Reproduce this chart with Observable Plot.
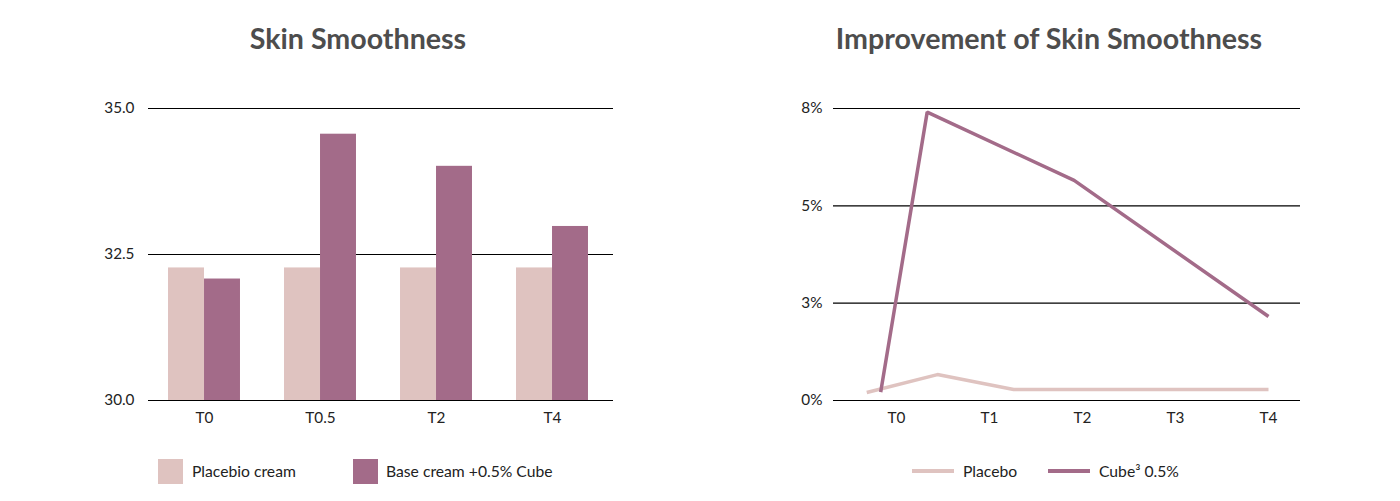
<!DOCTYPE html>
<html>
<head>
<meta charset="utf-8">
<script src="https://cdn.jsdelivr.net/npm/d3@7"></script>
<script src="https://cdn.jsdelivr.net/npm/@observablehq/plot@0.6"></script>
<style>
  html, body { margin: 0; padding: 0; background: #ffffff; }
  #wrap { position: relative; width: 1400px; height: 501px; overflow: hidden; font-family: Lato, "Open Sans", sans-serif; }
  .title { position: absolute; top: 18px; font-size: 28.6px; font-weight: 700; color: #4d4d4d; white-space: nowrap; line-height: 40px; transform: translateX(-50%); }
  .chart { position: absolute; top: 80px; }
  .leg { position: absolute; font-size: 15.7px; color: #222; white-space: nowrap; line-height: 24px; }
  .sw { position: absolute; }
</style>
</head>
<body>
<div id="wrap">
  <div class="title" style="left:358px">Skin Smoothness</div>
  <div class="title" style="left:1049px">Improvement of Skin Smoothness</div>
  <div class="chart" id="bars" style="left:0px"></div>
  <div class="chart" id="lines" style="left:700px"></div>
  <div id="legends"></div>
</div>
<script>
// ---- Bar chart data ----
const barTimes = ["T0", "T0.5", "T2", "T4"];
const placeboBar = [32.27, 32.27, 32.27, 32.27];
const cubeBar = [32.08, 34.56, 34.01, 32.98];
const barTicks = [30, 32.5, 35];
const barSeries = ["Placebio cream", "Base cream +0.5% Cube"];

// ---- Line chart data ----
const lineTicks = [0, 1, 2, 3, 4];
const lineTickLabels = ["T0", "T1", "T2", "T3", "T4"];
const placeboX = [-0.32, 0.44, 1.26, 4.0];
const placeboY = [0.22, 0.71, 0.30, 0.30];
const cubeX = [-0.17, 0.33, 1.91, 4.0];
const cubeY = [0.23, 7.90, 6.03, 2.30];
const pctTicks = [0, 8 / 3, 16 / 3, 8];
const pctLabels = ["0%", "3%", "5%", "8%"];
const lineSeries = ["Placebo", "Cube³ 0.5%"];

const colLight = "#dfc3c0";
const colDark = "#a36b89";

const placeboRows = barTimes.map((t, i) => ({time: t, v: placeboBar[i]}));
const cubeRows = barTimes.map((t, i) => ({time: t, v: cubeBar[i]}));

const axisStyle = {fontFamily: "Lato, 'Open Sans', sans-serif", fontSize: "15.3px", color: "#222", background: "transparent", overflow: "visible"};

const barChart = Plot.plot({
  width: 700, height: 360,
  marginLeft: 148, marginRight: 87, marginTop: 28, marginBottom: 40,
  style: axisStyle,
  x: {domain: barTimes, range: [146, 610], paddingInner: 0.69, paddingOuter: 0.345, round: false, label: null, tickSize: 0, tickPadding: 12},
  y: {domain: [30, 35], ticks: barTicks, tickFormat: d3.format(".1f"), label: null, tickSize: 0, tickPadding: 14},
  marks: [
    Plot.ruleY(barTicks, {stroke: "#000", strokeWidth: 1.1}),
    Plot.barY(placeboRows, {x: "time", y1: 30, y2: "v", fill: colLight, dx: -18}),
    Plot.barY(cubeRows, {x: "time", y1: 30, y2: "v", fill: colDark, dx: 18})
  ]
});
document.getElementById("bars").appendChild(barChart);

const placeboLine = placeboX.map((x, i) => ({x, y: placeboY[i]}));
const cubeLine = cubeX.map((x, i) => ({x, y: cubeY[i]}));

const lineChart = Plot.plot({
  width: 700, height: 360,
  marginLeft: 133, marginRight: 100, marginTop: 28, marginBottom: 40,
  style: axisStyle,
  x: {domain: [0, 4], range: [196, 568], ticks: lineTicks, tickFormat: d => lineTickLabels[lineTicks.indexOf(d)], label: null, tickSize: 0, tickPadding: 12},
  y: {domain: [0, 8], ticks: pctTicks, tickFormat: d => pctLabels[pctTicks.indexOf(d)], label: null, tickSize: 0, tickPadding: 11},
  marks: [
    Plot.ruleY(pctTicks, {stroke: "#000", strokeWidth: 1.1}),
    Plot.line(placeboLine, {x: "x", y: "y", stroke: colLight, strokeWidth: 3.5, strokeLinejoin: "miter", strokeLinecap: "butt"}),
    Plot.line(cubeLine, {x: "x", y: "y", stroke: colDark, strokeWidth: 3.5, strokeLinejoin: "miter", strokeLinecap: "butt"})
  ]
});
document.getElementById("lines").appendChild(lineChart);

// ---- Legends ----
const leg = document.getElementById("legends");
function addSwatch(left, top, w, h, color) {
  const d = document.createElement("div");
  d.className = "sw";
  Object.assign(d.style, {left: left + "px", top: top + "px", width: w + "px", height: h + "px", background: color});
  leg.appendChild(d);
}
function addText(left, top, text) {
  const d = document.createElement("div");
  d.className = "leg";
  d.style.left = left + "px";
  d.style.top = top + "px";
  d.textContent = text;
  leg.appendChild(d);
}
addSwatch(158, 459, 25, 25, colLight); addText(192, 459, barSeries[0]);
addSwatch(353, 459, 25, 25, colDark); addText(386, 459, barSeries[1]);
addSwatch(912, 469, 42, 3.5, colLight); addText(963, 459, lineSeries[0]);
addSwatch(1048, 469, 42, 3.5, colDark); addText(1099, 459, lineSeries[1]);
</script>
</body>
</html>
